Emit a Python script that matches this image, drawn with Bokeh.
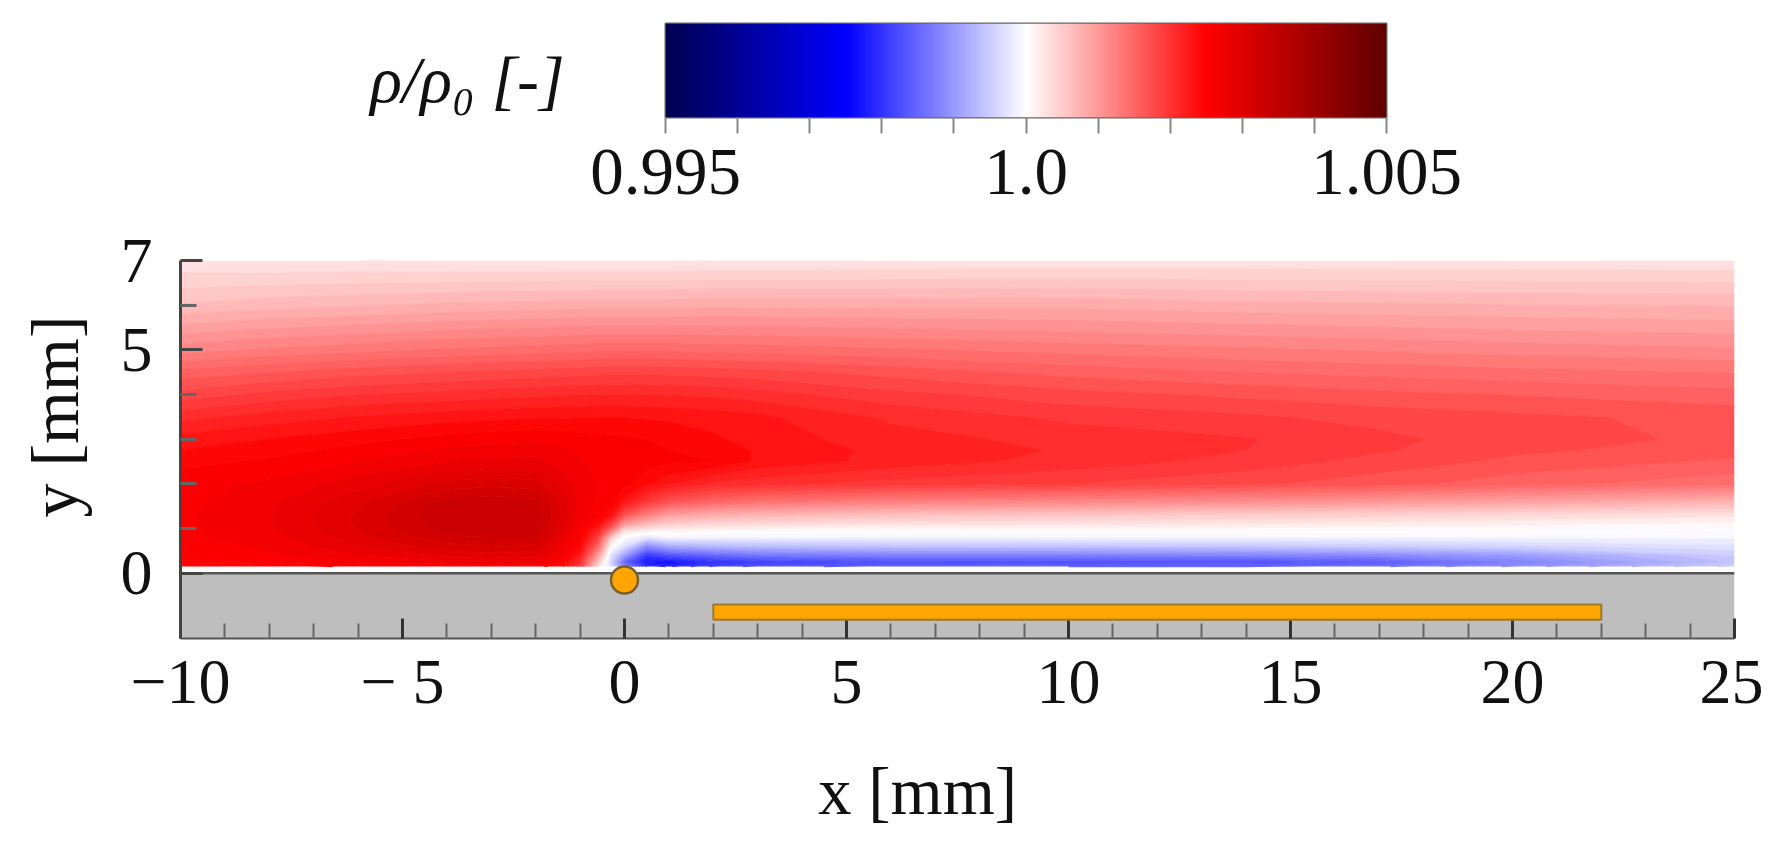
from bokeh.embed import file_html
from bokeh.resources import INLINE
from bokeh.plotting import figure
from bokeh.models import Range1d, FixedTicker, LinearColorMapper, Label
import numpy as np

FONT = "Liberation Serif"

# colour scale
rho_low, rho_high = 0.995, 1.005
cmap_stops = [(0.00, (0, 0, 80)), (0.25, (0, 0, 255)), (0.50, (255, 255, 255)),
              (0.75, (255, 0, 0)), (1.00, (96, 0, 0))]
cbar_major = [0.995, 1.0, 1.005]
cbar_major_labels = ["0.995", "1.0", "1.005"]
cbar_minor = [0.996, 0.997, 0.998, 0.999, 1.001, 1.002, 1.003, 1.004]

# measured field: rho/rho0 = 1 + value * 1e-5
grid_x = [-10, -8, -6, -4, -3, -2, -1.4, -1, -0.6, -0.3, 0, 0.5, 1, 2, 3, 6, 10, 14, 17, 20, 25]
grid_y = [0.15, 0.25, 0.4, 0.6, 0.8, 0.95, 1.1, 1.3, 1.6, 2, 2.5, 2.75, 3, 3.5, 4, 4.5, 5, 6, 7]
row_0p15 = [240, 245, 252, 255, 258, 255, 240, 190, 30, -30, -120, -200, -215, -185, -170, -155, -150, -150, -140, -110, -45]
row_0p25 = [248, 252, 262, 270, 275, 272, 250, 205, 60, -40, -150, -225, -235, -200, -188, -172, -172, -170, -160, -125, -60]
row_0p4 = [252, 260, 275, 290, 295, 292, 262, 225, 100, -30, -95, -195, -170, -150, -135, -125, -125, -122, -116, -98, -50]
row_0p6 = [255, 265, 287, 308, 312, 310, 272, 245, 150, 5, -30, -115, -85, -70, -65, -60, -58, -55, -50, -42, -28]
row_0p8 = [258, 270, 296, 322, 325, 325, 282, 255, 190, 50, -3, -25, -10, -12, -12, -12, -12, -12, -12, -10, -10]
row_0p95 = [259, 272, 300, 330, 332, 330, 290, 258, 215, 130, 30, 15, 12, 6, 4, 2, 2, 2, 2, 1, -1]
row_1p1 = [260, 274, 302, 333, 336, 332, 295, 262, 240, 190, 100, 70, 50, 40, 36, 30, 28, 24, 20, 16, 8]
row_1p3 = [260, 274, 302, 335, 337, 335, 298, 268, 255, 235, 170, 125, 95, 80, 72, 62, 56, 48, 44, 38, 28]
row_1p6 = [259, 272, 298, 330, 332, 330, 298, 272, 262, 255, 230, 195, 170, 150, 140, 125, 118, 110, 102, 92, 75]
row_2 = [258, 265, 282, 305, 308, 305, 285, 270, 262, 260, 255, 240, 228, 210, 205, 195, 188, 178, 168, 155, 142]
row_2p5 = [246, 252, 262, 275, 278, 280, 270, 264, 260, 258, 256, 255, 252, 250, 235, 220, 208, 195, 183, 172, 160]
row_2p75 = [238, 245, 254, 265, 268, 270, 264, 260, 257, 255, 254, 252, 250, 247, 236, 221, 211, 200, 189, 178, 168]
row_3 = [230, 238, 246, 255, 258, 260, 258, 256, 254, 253, 252, 250, 248, 240, 232, 218, 208, 201, 191, 181, 172]
row_3p5 = [208, 218, 226, 232, 234, 236, 236, 237, 237, 237, 237, 236, 235, 232, 228, 210, 197, 190, 183, 178, 171]
row_4 = [180, 192, 200, 205, 208, 210, 212, 212, 213, 213, 213, 212, 212, 210, 206, 192, 180, 172, 166, 162, 155]
row_4p5 = [155, 162, 170, 175, 178, 180, 182, 183, 184, 185, 185, 185, 184, 182, 180, 170, 158, 150, 146, 142, 137]
row_5 = [120, 128, 134, 140, 142, 144, 146, 147, 148, 148, 148, 148, 148, 146, 145, 140, 133, 128, 124, 120, 115]
row_6 = [64, 70, 74, 78, 80, 81, 82, 82, 83, 83, 83, 83, 83, 84, 84, 84, 84, 80, 78, 76, 74]
row_7 = [28, 26, 25, 24, 24, 24, 24, 24, 24, 24, 24, 24, 24, 25, 25, 26, 28, 28, 28, 28, 28]

# apparatus
plate_x = [-10, 25]
plate_y = [-1.46, 0]
strip_x = [2, 22]
strip_y = [-1.04, -0.70]
dot_x = [0]
dot_y = [-0.15]

# axis ticks
x_major = [-10, -5, 0, 5, 10, 15, 20, 25]
x_labels = ["−10", "− 5", "0", "5", "10", "15", "20", "25"]
x_minor = [v for v in range(-10, 26) if v % 5 != 0]
y_major = [0, 5, 7]
y_minor = [1, 2, 3, 4, 6]


def cmap(t):
    for (t0, c0), (t1, c1) in zip(cmap_stops, cmap_stops[1:]):
        if t <= t1:
            f = (t - t0) / (t1 - t0)
            return "#%02x%02x%02x" % tuple(int(round(a + (b - a) * f)) for a, b in zip(c0, c1))
    return "#600000"


ramp_palette = [cmap(i / 255) for i in range(256)]
n_bands = 80
levels = np.linspace(rho_low, rho_high, n_bands + 1)
band_palette = [cmap((i + 0.5) / n_bands) for i in range(n_bands)]
level_palette = [cmap(i / n_bands) for i in range(n_bands + 1)]

rows = [row_0p15, row_0p25, row_0p4, row_0p6, row_0p8, row_0p95, row_1p1, row_1p3, row_1p6, row_2,
        row_2p5, row_2p75, row_3, row_3p5, row_4, row_4p5, row_5, row_6, row_7]
field = 1 + np.array(rows, dtype=float) * 1e-5

# ---------- colour bar ----------
cb = figure(width=1763, height=225, output_backend="svg", toolbar_location=None,
            x_range=Range1d(rho_low, rho_high), y_range=Range1d(0, 1),
            min_border_left=665, min_border_right=377, min_border_top=23, min_border_bottom=108,
            x_axis_location="below", y_axis_location=None)
cb.background_fill_color = "white"
cb.border_fill_color = "white"
cb.grid.visible = False
cb.outline_line_color = "#666666"
cb.outline_line_width = 2
cb.image(image=[np.linspace(rho_low, rho_high, 512)[None, :]], x=rho_low, y=0, dw=rho_high - rho_low, dh=1,
         color_mapper=LinearColorMapper(palette=ramp_palette, low=rho_low, high=rho_high))
ax = cb.xaxis[0]
ax.ticker = FixedTicker(ticks=cbar_major, minor_ticks=cbar_minor)
ax.major_label_overrides = dict(zip(cbar_major, cbar_major_labels))
ax.major_tick_in = 0
ax.major_tick_out = 16
ax.minor_tick_in = 0
ax.minor_tick_out = 16
ax.major_tick_line_color = "#888888"
ax.minor_tick_line_color = "#888888"
ax.major_tick_line_width = 2
ax.minor_tick_line_width = 2
ax.axis_line_color = None
ax.major_label_text_font = FONT
ax.major_label_text_font_size = "67px"
ax.major_label_text_color = "#111111"
ax.major_label_standoff = 16
cb.add_layout(Label(x=467, y=79, x_units="canvas", y_units="canvas", text="ρ/ρ₀ [-]", text_font=FONT,
                    text_font_size="66px", text_font_style="italic", text_align="center",
                    text_baseline="middle", text_color="#111111"), "left")

# ---------- field ----------
p = figure(width=1763, height=611, output_backend="svg", toolbar_location=None,
           x_range=Range1d(-10, 25), y_range=Range1d(plate_y[0], 7),
           min_border_left=180, min_border_right=29, min_border_top=35, min_border_bottom=198)
p.grid.visible = False
p.outline_line_color = None
p.background_fill_color = "white"
p.border_fill_color = "white"

p.contour(grid_x, grid_y, field, levels, fill_color=band_palette, line_color=level_palette, line_width=1.2)
p.quad(left=[plate_x[0]], right=[plate_x[1]], bottom=[plate_y[0]], top=[plate_y[1]],
       fill_color="#bebebe", line_color=None)
p.segment(x0=[plate_x[0]], x1=[plate_x[1]], y0=[plate_y[1]], y1=[plate_y[1]],
          line_color="#555555", line_width=2.5)
p.quad(left=[strip_x[0]], right=[strip_x[1]], bottom=[strip_y[0]], top=[strip_y[1]],
       fill_color="#ffa500", line_color="#9a7a30", line_width=2, level="overlay")
p.scatter(dot_x, dot_y, size=27, fill_color="#ffa500", line_color="#7a6030", line_width=2.5, level="overlay")

xa = p.xaxis[0]
xa.ticker = FixedTicker(ticks=x_major, minor_ticks=x_minor)
xa.major_label_overrides = dict(zip(x_major, x_labels))
xa.major_tick_in = 20
xa.major_tick_out = 0
xa.minor_tick_in = 15
xa.minor_tick_out = 0
xa.major_tick_line_color = "#333333"
xa.major_tick_line_width = 3
xa.minor_tick_line_color = "#666666"
xa.minor_tick_line_width = 2
xa.axis_line_color = "#555555"
xa.axis_line_width = 2
xa.major_label_text_font = FONT
xa.major_label_text_font_size = "64px"
xa.major_label_text_color = "#111111"
xa.major_label_standoff = 7

ya = p.yaxis[0]
ya.ticker = FixedTicker(ticks=y_major, minor_ticks=y_minor)
ya.major_tick_in = 22
ya.major_tick_out = 0
ya.minor_tick_in = 16
ya.minor_tick_out = 0
ya.major_tick_line_color = "#444444"
ya.major_tick_line_width = 3
ya.minor_tick_line_color = "#666666"
ya.minor_tick_line_width = 3
ya.axis_line_color = "#444444"
ya.axis_line_width = 3
ya.major_label_text_font = FONT
ya.major_label_text_font_size = "64px"
ya.major_label_text_color = "#111111"
ya.major_label_standoff = 28

p.add_layout(Label(x=917, y=565, x_units="canvas", y_units="canvas", text="x [mm]", text_font=FONT,
                   text_font_size="67px", text_align="center", text_baseline="middle", text_color="#111111"), "below")
p.add_layout(Label(x=54, y=191, x_units="canvas", y_units="canvas", text="y [mm]", text_font=FONT,
                   text_font_size="68px", text_align="center", text_baseline="middle", angle=90,
                   angle_units="deg", text_color="#111111"), "left")

open("out.html", "w").write(file_html([cb, p], INLINE))
